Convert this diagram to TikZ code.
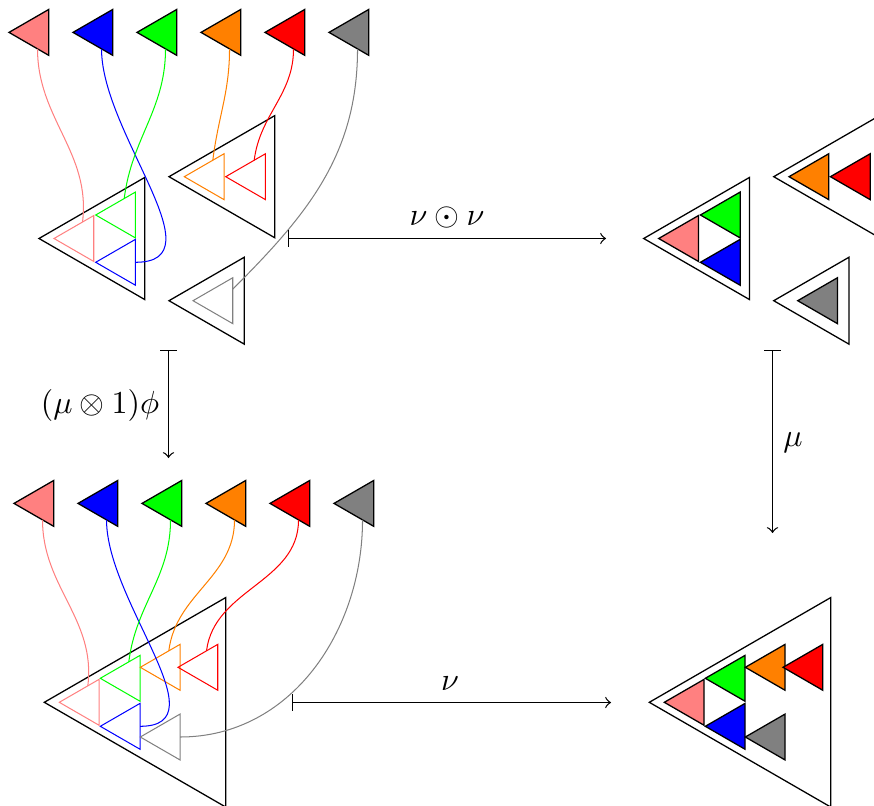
\documentclass[tikz,border=0pt]{standalone}
\usetikzlibrary{shapes.geometric}
\definecolor{cpink}{rgb}{1,0.5,0.5}
\definecolor{corange}{rgb}{1,0.5,0}
\definecolor{cgray}{rgb}{0.5,0.5,0.5}
\def\px{0.3125pt}
\tikzset{
  tri/.style={regular polygon,regular polygon sides=3,shape border rotate=90,
    inner sep=0pt,outer sep=0pt,draw},
  unit/.style={tri,minimum size=53*\px},
  midtri/.style={tri,minimum size=100.4*\px},
  bigtri/.style={tri,minimum size=141*\px},
  hugetri/.style={tri,minimum size=242*\px},
  wire/.style={out=-90,in=83},
  thinline/.style={line width=0.32pt},
  label/.style={inner sep=0pt},
}
\begin{document}
\begin{tikzpicture}[x=\px,y=-\px]
\clip (0,0) rectangle (874,805);
% top row and wires, upper left
\foreach \n/\x/\c in {tp/35.5/cpink,tb/99.5/blue,tg/163.5/green,to/227.5/corange,tr/291.5/red,ty/355.5/cgray}
  \node[unit,fill=\c] (\n) at (\x,32.4) {};
\node[bigtri] (A) at (109.5,238.5) {};
\node[bigtri] (B) at (239.5,176.7) {};
\node[midtri] (C) at (219.2,300.7) {};
\foreach \n/\x/\y/\c in {ap/80.5/238.5/cpink,ag/122.2/215/green,ab/122.2/262.3/blue,ao/210.8/176.7/corange,ar/252.2/176.7/red,ay/219.5/300.7/cgray}
  \node[unit,thinline,draw=\c] (\n) at (\x,\y) {};
\draw[thinline,cpink] (tp.-83) to[wire] (ap.83);
\draw[thinline,blue] (tb.-83) to[out=-90,in=0] (ab.0);
\draw[thinline,green] (tg.-83) to[wire] (ag.83);
\draw[thinline,corange] (to.-83) to[wire] (ao.83);
\draw[thinline,red] (tr.-83) to[wire] (ar.83);
\draw[thinline,cgray] (ty.-83) to[out=-90,in=45] (ay.41);
% upper right
\node[bigtri] (A2) at (714.2,238.5) {};
\node[bigtri] (B2) at (844.2,176.7) {};
\node[midtri] (C2) at (823.9,300.7) {};
\foreach \n/\x/\y/\c in {bp/80.5/238.5/cpink,bg/122.2/215/green,bb/122.2/262.3/blue,bo/210.8/176.7/corange,br/252.2/176.7/red,by/219.5/300.7/cgray}
  \node[unit,fill=\c,xshift=604.7*\px] (\n) at (\x,\y) {};
% bottom row and wires, lower left
\foreach \n/\x/\c in {up/40.5/cpink,ub/104.5/blue,ug/168.5/green,uo/232.5/corange,ur/296.5/red,uy/360.5/cgray}
  \node[unit,fill=\c] (\n) at (\x,503.4) {};
\node[hugetri] (D) at (165.3,702.3) {};
\foreach \n/\x/\y/\c in {dp/85.8/702.3/cpink,dg/126.8/678.3/green,db/126.8/726.3/blue,do/166.8/667.3/corange,dr/204.5/667.3/red,dy/166.8/737/cgray}
  \node[unit,thinline,draw=\c] (\n) at (\x,\y) {};
\draw[thinline,cpink] (up.-83) to[wire] (dp.83);
\draw[thinline,blue] (ub.-83) to[out=-90,in=0] (db.0);
\draw[thinline,green] (ug.-83) to[wire] (dg.83);
\draw[thinline,corange] (uo.-83) to[wire] (do.83);
\draw[thinline,red] (ur.-83) to[wire] (dr.83);
\draw[thinline,cgray] (uy.-83) to[out=-90,in=0] (dy.0);
% lower right
\node[hugetri] (D2) at (770.3,702.3) {};
\foreach \n/\x/\y/\c in {ep/85.8/702.3/cpink,eg/126.8/678.3/green,eb/126.8/726.3/blue,eo/166.8/667.3/corange,er/204.5/667.3/red,ey/166.8/737/cgray}
  \node[unit,fill=\c,xshift=605*\px] (\n) at (\x,\y) {};
% arrows
\coordinate (h1a) at (287.5,238.5);
\coordinate (h1b) at (606,238.5);
\coordinate (h2a) at (292,702.5);
\coordinate (h2b) at (611,702.5);
\coordinate (v1a) at (168.5,350);
\coordinate (v1b) at (168.5,458);
\coordinate (v2a) at (772.5,350);
\coordinate (v2b) at (772.5,533);
\draw[|->] (h1a) -- (h1b);
\draw[|->] (h2a) -- (h2b);
\draw[|->] (v1a) -- (v1b);
\draw[|->] (v2a) -- (v2b);
\node[label] (l1) at (447,217.5) {$\nu\odot\nu$};
\node[label] (l2) at (450,684) {$\nu$};
\node[label] (l3) at (100,405) {$(\mu\otimes 1)\phi$};
\node[label] (l4) at (793,443) {$\mu$};
\end{tikzpicture}
\end{document}
